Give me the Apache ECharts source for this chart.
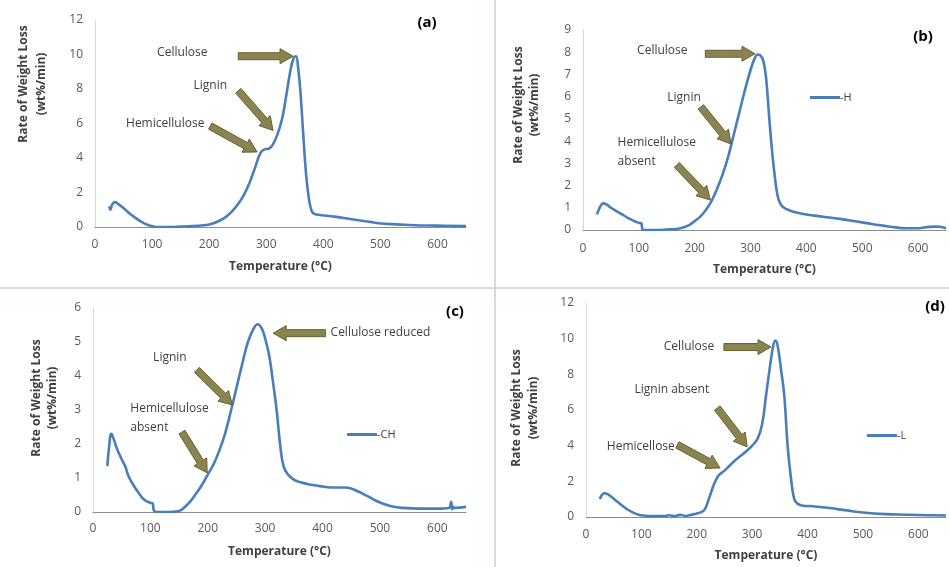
<!DOCTYPE html>
<html><head><meta charset="utf-8">
<script src="https://cdn.jsdelivr.net/npm/echarts/dist/echarts.min.js"></script>
<style>html,body{margin:0;padding:0;background:#fff}#c{width:949px;height:567px}</style>
</head><body><div id="c"></div>
<script>
// ---- data (Temperature °C, Rate of weight loss wt%/min) ----
const tempA = [25,27,30,35,40,50,60,70,80,90,100,110,130,150,170,190,200,210,220,230,240,250,260,270,280,290,297,305,312,320,328,335,342,348,352,356,360,365,370,375,380,385,395,420,450,480,500,530,560,600,650];
const rateA = [1.2,1.0,1.3,1.45,1.35,1.1,0.8,0.55,0.33,0.15,0.05,0.0,0.0,0.02,0.05,0.1,0.15,0.25,0.4,0.6,0.9,1.3,1.8,2.5,3.4,4.3,4.5,4.55,4.8,5.4,6.3,7.6,9.0,9.8,9.9,9.2,7.8,5.3,3.0,1.6,0.9,0.75,0.7,0.6,0.45,0.3,0.2,0.15,0.1,0.08,0.05];

const tempB = [25,28,32,36,42,50,60,70,80,90,100,105,106,108,130,150,170,180,190,200,210,220,230,240,250,260,270,280,290,300,307,313,318,323,328,333,338,343,348,353,360,370,380,400,430,460,490,520,550,580,600,620,635,650];
const rateB = [0.7,0.9,1.1,1.2,1.15,1.0,0.85,0.7,0.55,0.42,0.32,0.28,0.05,0.0,0.0,0.02,0.06,0.12,0.22,0.4,0.6,0.9,1.3,1.85,2.5,3.3,4.3,5.3,6.3,7.2,7.7,7.9,7.85,7.6,6.8,5.2,3.7,2.5,1.6,1.2,1.0,0.88,0.8,0.7,0.6,0.5,0.38,0.26,0.15,0.08,0.08,0.14,0.15,0.08];

const tempC = [25,28,32,36,42,50,56,62,70,80,90,100,104,106,110,130,150,160,170,180,190,200,210,220,230,240,250,260,270,280,287,294,300,307,313,320,326,332,340,350,360,380,400,420,440,460,480,500,520,540,570,600,620,624,626,628,630,650];
const rateC = [1.35,1.9,2.3,2.15,1.85,1.55,1.35,1.05,0.8,0.55,0.35,0.27,0.25,0.05,0.0,0.0,0.03,0.15,0.32,0.55,0.8,1.1,1.4,1.8,2.3,2.95,3.65,4.35,5.0,5.4,5.52,5.4,5.1,4.6,3.9,3.0,2.0,1.35,1.1,0.95,0.88,0.8,0.75,0.72,0.72,0.62,0.45,0.28,0.17,0.12,0.1,0.1,0.12,0.3,0.08,0.15,0.12,0.15];

const tempD = [25,28,33,38,45,55,65,75,85,95,105,120,140,150,160,170,180,190,200,210,215,220,225,230,235,240,250,260,270,280,290,300,310,318,325,332,338,342,346,352,358,364,370,376,382,390,410,440,470,500,540,580,620,650];
const rateD = [1.0,1.2,1.33,1.3,1.15,0.9,0.65,0.42,0.25,0.13,0.08,0.05,0.05,0.1,0.05,0.12,0.06,0.12,0.2,0.3,0.45,0.85,1.3,1.75,2.1,2.35,2.6,2.9,3.2,3.45,3.7,4.0,4.4,5.2,6.8,8.4,9.6,9.9,9.6,8.3,6.8,4.0,2.2,1.0,0.75,0.65,0.6,0.5,0.37,0.25,0.16,0.13,0.1,0.08];

const seriesNames = ['-A','-H','-CH','-L'];
const panelTags = ['(a)','(b)','(c)','(d)'];
const xAxisTitle = 'Temperature (°C)';
const yAxisTitle1 = 'Rate of Weight Loss';
const yAxisTitle2 = '(wt%/min)';

// ---- layout ----
const FONT = '"Open Sans", "Liberation Sans", sans-serif';
const LINE = '#4a7ebb';
const panels = [
  {temp:tempA, rate:rateA, grid:{left:95, top:20, width:371, height:207}, yMax:12, yInt:2, xm:12, gap:34,
   yName:[[24,84],[42,84]], tag:[427,23]},
  {temp:tempB, rate:rateB, grid:{left:583, top:30, width:367, height:200}, yMax:9, yInt:1, xm:13, gap:34,
   yName:[[519,105],[535,105]], tag:[923,37]},
  {temp:tempC, rate:rateC, grid:{left:93, top:308, width:373, height:204}, yMax:6, yInt:1, xm:11, gap:34,
   yName:[[37,398],[53,398]], tag:[455,312]},
  {temp:tempD, rate:rateD, grid:{left:586, top:303, width:381, height:214}, yMax:12, yInt:2, xm:12, gap:33,
   yName:[[517,408],[534,408]], tag:[935,307]}
];

// annotations in data coordinates of each panel
const notes = [
  {g:0, text:'Cellulose', at:[153,10.1], align:'center'},
  {g:0, text:'Lignin', at:[202,8.2], align:'center'},
  {g:0, text:'Hemicellulose', at:[123,6.0], align:'center'},
  {g:1, text:'Cellulose', at:[142,8.06], align:'center'},
  {g:1, text:'Lignin', at:[181,5.95], align:'center'},
  {g:1, text:'Hemicellulose', at:[62,3.92], align:'left'},
  {g:1, text:'absent', at:[62,3.06], align:'left'},
  {g:2, text:'Cellulose reduced', at:[414,5.29], align:'left'},
  {g:2, text:'Lignin', at:[134,4.53], align:'center'},
  {g:2, text:'Hemicellulose', at:[65,3.03], align:'left'},
  {g:2, text:'absent', at:[65,2.47], align:'left'},
  {g:3, text:'Cellulose', at:[186,9.53], align:'center'},
  {g:3, text:'Lignin absent', at:[155,7.12], align:'center'},
  {g:3, text:'Hemicellose', at:[99,3.93], align:'center'}
];
const arrows = [
  {g:0, from:[251,9.9], to:[347,9.9]},
  {g:0, from:[251,7.9], to:[312,5.6]},
  {g:0, from:[202,5.85], to:[284,4.35]},
  {g:1, from:[219,7.93], to:[308,7.93]},
  {g:1, from:[211,5.54], to:[265,3.87]},
  {g:1, from:[168,2.93], to:[228,1.35]},
  {g:2, from:[405,5.26], to:[314,5.26]},
  {g:2, from:[181,4.18], to:[243,3.15]},
  {g:2, from:[155,2.35], to:[199,1.15]},
  {g:3, from:[249,9.53], to:[334,9.53]},
  {g:3, from:[237,6.11], to:[291,3.93]},
  {g:3, from:[165,4.04], to:[242,2.75]}
];

const chart = echarts.init(document.getElementById('c'), null, {renderer:'canvas'});
const lbl = {color:'#595959', fontSize:12, fontFamily:FONT};
const option = {
  backgroundColor:'#ffffff',
  animation:false,
  grid: panels.map(p => p.grid),
  xAxis: panels.map((p,i) => ({
    type:'value', gridIndex:i, min:0, max:650, interval:100,
    name:xAxisTitle, nameLocation:'middle', nameGap:p.gap,
    nameTextStyle:{fontWeight:'bold', fontSize:12, color:'#404040', fontFamily:FONT},
    axisLine:{show:true, lineStyle:{color:'#8c8c8c', width:1}},
    axisTick:{show:false}, splitLine:{show:false},
    axisLabel:Object.assign({margin:p.xm, formatter:v => (v % 100 === 0 ? String(v) : '')}, lbl)
  })),
  yAxis: panels.map((p,i) => ({
    type:'value', gridIndex:i, min:0, max:p.yMax, interval:p.yInt,
    axisLine:{show:true, lineStyle:{color:'#d9d9d9', width:1}},
    axisTick:{show:false}, splitLine:{show:false},
    axisLabel:Object.assign({margin:12}, lbl)
  })),
  legend: [
    {data:[seriesNames[1]], left:810, top:92},
    {data:[seriesNames[2]], left:347, top:429},
    {data:[seriesNames[3]], left:867, top:430}
  ].map(l => Object.assign({padding:0, icon:'rect', itemWidth:30, itemHeight:3,
      textStyle:{color:'#404040', fontSize:11, fontFamily:FONT, padding:[0,0,0,-5]}}, l)),
  series: panels.map((p,i) => ({
    type:'line', name:seriesNames[i], xAxisIndex:i, yAxisIndex:i,
    data:p.temp.map((t,k) => [t, p.rate[k]]),
    showSymbol:false, smooth:0.45,
    lineStyle:{color:LINE, width:2.6}, itemStyle:{color:LINE}
  }))
};
chart.setOption(option);

function arrowPoly(a, b) {
  const dx = b[0]-a[0], dy = b[1]-a[1], L = Math.hypot(dx,dy);
  const ux = dx/L, uy = dy/L, nx = -uy, ny = ux;
  const sw = 3.5, hw = 7.5, hl = 13;
  const bx = b[0]-ux*hl, by = b[1]-uy*hl;
  return [[a[0]+nx*sw, a[1]+ny*sw],[bx+nx*sw, by+ny*sw],[bx+nx*hw, by+ny*hw],[b[0],b[1]],
          [bx-nx*hw, by-ny*hw],[bx-nx*sw, by-ny*sw],[a[0]-nx*sw, a[1]-ny*sw]];
}

const gfx = [];
// panel dividers
gfx.push({type:'line', shape:{x1:495,y1:0,x2:495,y2:567}, style:{stroke:'#c6ced9', lineWidth:1.5}, z:0});
gfx.push({type:'line', shape:{x1:0,y1:288,x2:949,y2:288}, style:{stroke:'#c6ced9', lineWidth:1.5}, z:0});
panels.forEach((p,i) => {
  gfx.push({type:'text', x:p.tag[0], y:p.tag[1], style:{text:panelTags[i], fontSize:15, fontWeight:'bold', fontFamily:FONT, fill:'#000', align:'center', verticalAlign:'middle'}});
  gfx.push({type:'text', x:p.yName[0][0], y:p.yName[0][1], rotation:Math.PI/2, style:{text:yAxisTitle1, fontSize:12, fontWeight:'bold', fontFamily:FONT, fill:'#404040', align:'center', verticalAlign:'middle'}});
  gfx.push({type:'text', x:p.yName[1][0], y:p.yName[1][1], rotation:Math.PI/2, style:{text:yAxisTitle2, fontSize:12, fontWeight:'bold', fontFamily:FONT, fill:'#404040', align:'center', verticalAlign:'middle'}});
});
notes.forEach(n => {
  const pt = chart.convertToPixel({gridIndex:n.g}, n.at);
  gfx.push({type:'text', x:pt[0], y:pt[1], style:{text:n.text, fontSize:12, fontFamily:FONT, fill:'#404040', align:n.align, verticalAlign:'middle'}});
});
arrows.forEach(a => {
  const p0 = chart.convertToPixel({gridIndex:a.g}, a.from);
  const p1 = chart.convertToPixel({gridIndex:a.g}, a.to);
  gfx.push({type:'polygon', shape:{points:arrowPoly(p0,p1)}, style:{fill:'#8a8550', stroke:'#656134', lineWidth:1}, z:10});
});
chart.setOption({graphic:gfx});
</script></body></html>
